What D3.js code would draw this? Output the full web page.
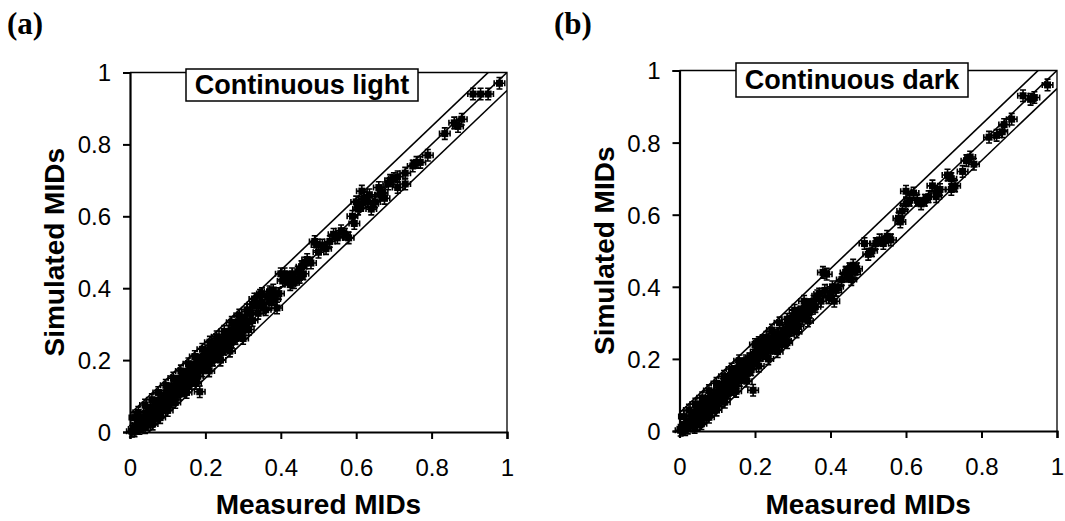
<!DOCTYPE html>
<html>
<head>
<meta charset="utf-8">
<script src="https://cdn.jsdelivr.net/npm/d3@7"></script>
<style>
  body { margin: 0; background: #fff; }
  svg { display: block; }
  .tick-label { font-family: Arial, "Liberation Sans", sans-serif; font-size: 24px; fill: #000; }
  .axis-label { font-family: Arial, "Liberation Sans", sans-serif; font-size: 28px; font-weight: bold; fill: #000; }
  .panel-title { font-family: Arial, "Liberation Sans", sans-serif; font-size: 27px; font-weight: bold; fill: #000; }
  .panel-tag { font-family: "Times New Roman", "Liberation Serif", serif; font-size: 31px; font-weight: bold; fill: #000; }
</style>
</head>
<body>
<div id="chart"></div>
<script>
// measured, simulated MIDs — continuous light
const lightPoints = [
  [0.005,0.002],[0.01,0.008],[0.012,0.003],[0.018,0.012],[0.02,0.02],[0.025,0.01],[0.028,0.03],[0.03,0.018],
  [0.035,0.04],[0.036,0.025],[0.04,0.012],[0.042,0.05],[0.045,0.035],[0.048,0.02],[0.05,0.06],[0.052,0.045],
  [0.055,0.03],[0.058,0.055],[0.06,0.068],[0.062,0.04],[0.065,0.05],[0.068,0.075],[0.07,0.06],[0.072,0.045],
  [0.075,0.08],[0.078,0.065],[0.08,0.055],[0.082,0.09],[0.085,0.075],[0.088,0.06],[0.09,0.1],[0.092,0.085],
  [0.095,0.07],[0.098,0.11],[0.1,0.095],[0.1,0.078],
  [0.012,0.04],[0.022,0.055],[0.04,0.075],[0.058,0.09],[0.075,0.11],[0.06,0.022],[0.08,0.04],[0.1,0.06],
  [0.105,0.12],[0.108,0.1],[0.11,0.085],[0.115,0.125],[0.118,0.11],[0.12,0.095],[0.125,0.14],[0.128,0.12],
  [0.13,0.105],[0.135,0.15],[0.138,0.13],[0.14,0.115],[0.145,0.16],[0.148,0.14],[0.15,0.125],[0.155,0.17],
  [0.158,0.15],[0.16,0.135],[0.165,0.18],[0.168,0.16],[0.17,0.145],[0.175,0.19],[0.178,0.175],[0.18,0.155],
  [0.185,0.112],[0.185,0.2],[0.19,0.185],[0.192,0.17],[0.195,0.21],[0.198,0.195],
  [0.095,0.13],[0.115,0.15],[0.135,0.17],[0.155,0.19],[0.172,0.21],[0.12,0.082],[0.15,0.11],[0.175,0.135],
  [0.2,0.18],[0.205,0.225],[0.208,0.2],[0.21,0.19],[0.215,0.235],[0.218,0.215],[0.22,0.2],[0.225,0.245],
  [0.228,0.225],[0.23,0.21],[0.235,0.25],[0.238,0.235],[0.24,0.22],[0.245,0.255],[0.248,0.24],[0.25,0.23],
  [0.255,0.265],[0.258,0.25],[0.26,0.24],[0.265,0.28],[0.268,0.26],[0.27,0.25],[0.275,0.29],[0.278,0.27],
  [0.28,0.26],[0.285,0.305],[0.288,0.285],[0.29,0.27],[0.295,0.31],[0.298,0.29],
  [0.192,0.23],[0.212,0.25],[0.23,0.265],[0.25,0.28],[0.27,0.305],[0.29,0.325],[0.21,0.17],[0.24,0.2],
  [0.265,0.225],[0.3,0.26],
  [0.3,0.28],[0.305,0.32],[0.31,0.3],[0.315,0.285],[0.32,0.33],[0.325,0.31],[0.33,0.37],[0.335,0.35],
  [0.34,0.33],[0.345,0.38],[0.35,0.36],[0.355,0.345],[0.36,0.34],[0.365,0.375],[0.37,0.39],[0.375,0.36],
  [0.38,0.395],[0.385,0.37],[0.39,0.345],[0.395,0.385],[0.31,0.34],[0.325,0.355],[0.35,0.385],
  [0.4,0.44],[0.405,0.42],[0.41,0.44],[0.415,0.425],[0.42,0.43],[0.425,0.41],[0.43,0.44],[0.435,0.415],
  [0.44,0.425],[0.445,0.445],[0.45,0.43],[0.455,0.46],[0.46,0.44],[0.465,0.47],[0.47,0.48],[0.48,0.47],
  [0.49,0.53],[0.495,0.52],
  [0.5,0.5],[0.51,0.52],[0.52,0.51],[0.53,0.53],[0.54,0.55],[0.55,0.54],[0.56,0.56],[0.57,0.55],
  [0.58,0.54],[0.59,0.6],[0.595,0.58],
  [0.6,0.64],[0.605,0.62],[0.61,0.63],[0.615,0.67],[0.62,0.65],[0.63,0.64],[0.635,0.66],[0.64,0.62],
  [0.645,0.635],[0.65,0.64],[0.66,0.68],[0.665,0.66],[0.67,0.665],[0.675,0.65],[0.685,0.69],[0.69,0.7],
  [0.7,0.705],
  [0.71,0.71],[0.71,0.68],[0.73,0.69],[0.73,0.72],[0.75,0.74],[0.76,0.75],[0.77,0.75],[0.79,0.77],
  [0.835,0.83],[0.86,0.86],[0.87,0.85],[0.88,0.87],[0.91,0.94],[0.93,0.94],[0.95,0.94],[0.98,0.97]
];

// measured, simulated MIDs — continuous dark
const darkPoints = [
  [0.003,0.002],[0.008,0.006],[0.012,0.01],[0.015,0.004],[0.02,0.018],[0.022,0.008],[0.026,0.028],[0.03,0.015],
  [0.033,0.04],[0.036,0.025],[0.04,0.01],[0.042,0.05],[0.045,0.03],[0.048,0.018],[0.05,0.065],[0.053,0.045],
  [0.056,0.03],[0.06,0.07],[0.062,0.05],[0.065,0.038],[0.068,0.08],[0.07,0.06],[0.073,0.045],[0.076,0.09],
  [0.078,0.07],[0.08,0.055],[0.083,0.095],[0.086,0.08],[0.088,0.065],[0.09,0.1],[0.093,0.085],[0.096,0.07],
  [0.1,0.105],[0.1,0.09],
  [0.012,0.04],[0.025,0.058],[0.042,0.075],[0.06,0.092],[0.078,0.112],[0.058,0.02],[0.078,0.038],[0.098,0.058],
  [0.105,0.12],[0.108,0.1],[0.11,0.085],[0.115,0.13],[0.118,0.11],[0.12,0.095],[0.125,0.14],[0.128,0.12],
  [0.13,0.105],[0.135,0.155],[0.138,0.135],[0.14,0.115],[0.145,0.165],[0.148,0.145],[0.15,0.125],[0.155,0.175],
  [0.158,0.16],[0.16,0.14],[0.165,0.185],[0.168,0.165],[0.17,0.15],[0.175,0.195],[0.178,0.18],[0.18,0.16],
  [0.185,0.2],[0.188,0.185],[0.19,0.17],[0.195,0.113],[0.195,0.21],[0.198,0.19],
  [0.098,0.132],[0.118,0.152],[0.138,0.172],[0.158,0.195],[0.12,0.08],[0.15,0.11],[0.178,0.138],
  [0.2,0.24],[0.202,0.22],[0.205,0.2],[0.21,0.245],[0.213,0.23],[0.215,0.21],[0.22,0.25],[0.223,0.235],
  [0.226,0.215],[0.23,0.26],[0.233,0.24],[0.236,0.225],[0.24,0.255],[0.243,0.245],[0.246,0.23],[0.25,0.265],
  [0.254,0.25],[0.258,0.235],[0.262,0.27],[0.266,0.255],[0.27,0.24],[0.275,0.28],[0.278,0.265],[0.282,0.25],
  [0.285,0.31],[0.288,0.29],[0.29,0.27],[0.295,0.3],[0.298,0.28],
  [0.21,0.18],[0.235,0.2],[0.26,0.22],[0.285,0.245],[0.265,0.3],[0.245,0.28],
  [0.3,0.32],[0.305,0.3],[0.31,0.315],[0.315,0.29],[0.32,0.33],[0.325,0.31],[0.33,0.34],[0.335,0.32],
  [0.34,0.35],[0.345,0.33],[0.35,0.34],[0.355,0.36],[0.36,0.345],[0.365,0.375],[0.37,0.38],[0.375,0.36],
  [0.38,0.44],[0.385,0.39],[0.39,0.435],[0.395,0.37],[0.305,0.335],[0.33,0.36],[0.31,0.275],[0.34,0.305],
  [0.4,0.38],[0.405,0.4],[0.41,0.36],[0.415,0.39],[0.42,0.4],[0.44,0.44],[0.445,0.43],[0.45,0.45],
  [0.455,0.42],[0.46,0.46],[0.465,0.44],[0.49,0.52],[0.5,0.49],[0.51,0.5],[0.43,0.42],[0.47,0.45],
  [0.52,0.52],[0.53,0.53],[0.54,0.52],[0.55,0.54],[0.56,0.53],[0.58,0.59],[0.585,0.58],[0.59,0.61],
  [0.6,0.665],[0.6,0.63],[0.61,0.64],[0.62,0.66],[0.63,0.64],[0.64,0.63],[0.65,0.64],[0.66,0.65],
  [0.67,0.68],[0.68,0.66],[0.69,0.67],[0.68,0.65],
  [0.71,0.71],[0.72,0.7],[0.72,0.67],[0.73,0.68],[0.75,0.72],[0.76,0.75],[0.77,0.76],[0.78,0.74],
  [0.82,0.815],[0.84,0.82],[0.855,0.83],[0.86,0.85],[0.88,0.865],[0.91,0.93],[0.93,0.92],[0.94,0.925],
  [0.975,0.96]
];

// error bar half-widths (MID units)
const errMeasured = 0.014;
const errSimulated = 0.016;

// y = x and the +/- 0.05 band
const refLines = [0, 0.05, -0.05];
const ticks = [0, 0.2, 0.4, 0.6, 0.8, 1];

const width = 1065;
const height = 521;

const svg = d3.select("#chart")
  .append("svg")
  .attr("width", width)
  .attr("height", height);

const panels = [
  { tag: "(a)", title: "Continuous light", data: lightPoints,
    x0: 130, x1: 507, y0: 432, y1: 72.5, tagX: 7,
    box: { x: 186, y: 69, w: 232, h: 32 } },
  { tag: "(b)", title: "Continuous dark", data: darkPoints,
    x0: 679.5, x1: 1057, y0: 431, y1: 70.5, tagX: 554,
    box: { x: 736, y: 63, w: 232, h: 34 } }
];

panels.forEach((p, i) => {
  const x = d3.scaleLinear().domain([0, 1]).range([p.x0, p.x1]);
  const y = d3.scaleLinear().domain([0, 1]).range([p.y0, p.y1]);
  const g = svg.append("g");

  svg.append("text")
    .attr("class", "panel-tag")
    .attr("x", p.tagX)
    .attr("y", 34)
    .text(p.tag);

  // plot frame (top and right)
  g.append("path")
    .attr("d", `M${x(0)},${y(1)}H${x(1)}V${y(0)}`)
    .attr("fill", "none")
    .attr("stroke", "#000")
    .attr("stroke-width", 1.3);

  const clipId = "clip" + i;
  svg.append("clipPath").attr("id", clipId)
    .append("rect")
    .attr("x", x(0)).attr("y", y(1))
    .attr("width", x(1) - x(0)).attr("height", y(0) - y(1));

  refLines.forEach((off) => {
    g.append("line")
      .attr("clip-path", `url(#${clipId})`)
      .attr("x1", x(0)).attr("y1", y(0 + off))
      .attr("x2", x(1)).attr("y2", y(1 + off))
      .attr("stroke", "#000")
      .attr("stroke-width", 1.6);
  });

  // data with error bars
  const pts = g.selectAll(".pt")
    .data(p.data)
    .enter()
    .append("g")
    .attr("class", "pt")
    .attr("transform", (d) => `translate(${x(d[0])},${y(d[1])})`);

  const ex = x(errMeasured) - x(0);
  const ey = y(0) - y(errSimulated);
  pts.append("path")
    .attr("d", `M${-ex},0H${ex}M${-ex},-3V3M${ex},-3V3M0,${-ey}V${ey}M-3,${-ey}H3M-3,${ey}H3`)
    .attr("stroke", "#000")
    .attr("stroke-width", 1.6)
    .attr("fill", "none");

  pts.append("rect")
    .attr("x", -3.5).attr("y", -3.5)
    .attr("width", 7).attr("height", 7)
    .attr("fill", "#000");

  // axes
  const xAxis = d3.axisBottom(x).tickValues(ticks).tickSize(7).tickFormat(d3.format("~g"));
  const yAxis = d3.axisLeft(y).tickValues(ticks).tickSize(7).tickFormat(d3.format("~g"));

  const gx = svg.append("g").attr("transform", `translate(0,${p.y0})`).call(xAxis);
  const gy = svg.append("g").attr("transform", `translate(${p.x0},0)`).call(yAxis);
  [gx, gy].forEach((ax) => {
    ax.select(".domain").attr("stroke", "#000").attr("stroke-width", 2.2);
    ax.selectAll(".tick line").attr("stroke", "#000").attr("stroke-width", 2);
    ax.selectAll(".tick text").attr("class", "tick-label").attr("font-size", null).attr("font-family", null);
  });
  gx.selectAll(".tick text").attr("y", 0).attr("dy", null).attr("transform", "translate(0,44)");
  gy.selectAll(".tick text").attr("x", -19).attr("dy", "0.35em");

  // title box
  svg.append("rect")
    .attr("x", p.box.x).attr("y", p.box.y)
    .attr("width", p.box.w).attr("height", p.box.h)
    .attr("fill", "#fff")
    .attr("stroke", "#000")
    .attr("stroke-width", 1.5);
  svg.append("text")
    .attr("class", "panel-title")
    .attr("x", p.box.x + p.box.w / 2)
    .attr("y", p.box.y + p.box.h / 2 + 9)
    .attr("text-anchor", "middle")
    .text(p.title);

  svg.append("text")
    .attr("class", "axis-label")
    .attr("text-anchor", "middle")
    .attr("x", x(0.5))
    .attr("y", 514)
    .text("Measured MIDs");

  svg.append("text")
    .attr("class", "axis-label")
    .attr("text-anchor", "middle")
    .attr("transform", `translate(${p.x0 - 66},${y(0.5)}) rotate(-90)`)
    .text("Simulated MIDs");
});
</script>
</body>
</html>
